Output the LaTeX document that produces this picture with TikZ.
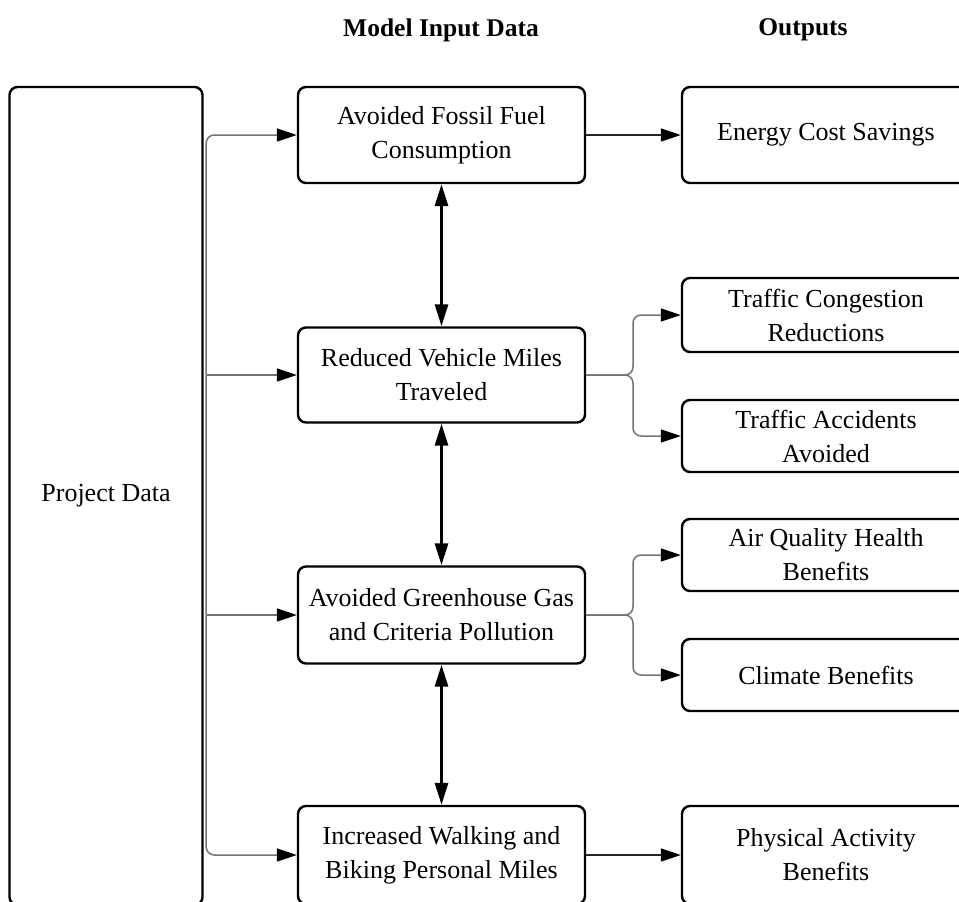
\documentclass[tikz,border=0pt]{standalone}
\usepackage{fontspec}
\setmainfont{Liberation Serif}
\usetikzlibrary{arrows.meta}
\begin{document}
\begin{tikzpicture}[x=1pt,y=-1pt,
  box/.style={draw=black, line width=2.4pt, rounded corners=8pt, align=center,
    inner sep=0pt, minimum width=287pt, font=\fontsize{26}{34}\selectfont},
  obox/.style={box, minimum width=288pt},
  title/.style={font=\fontsize{25.5}{30}\selectfont\bfseries},
  gline/.style={draw=black!55, line width=1.5pt},
  bline/.style={draw=black!85, line width=1.5pt},
  vline/.style={draw=black, line width=3pt},
  htip/.tip={Triangle[length=20pt,width=13pt,color=black]},
  vtip/.tip={Triangle[length=22pt,width=13pt,color=black]}
]
\useasboundingbox (0,0) rectangle (959,902);
\clip (0,0) rectangle (959,902);

\node[title] (t1) at (441,30) {Model Input Data};
\node[title] (t2) at (803,30) {Outputs};

\node[box, minimum width=193pt, minimum height=818pt] (pd) at (106,496) {Project Data};

\node[box, minimum height=96pt] (m1) at (441.5,135) {Avoided Fossil Fuel\\Consumption};
\node[box, minimum height=95pt] (m2) at (441.5,375) {Reduced Vehicle Miles\\Traveled};
\node[box, minimum height=97pt] (m3) at (441.5,615) {Avoided Greenhouse Gas\\and Criteria Pollution};
\node[box, minimum height=98pt] (m4) at (441.5,855) {Increased Walking and\\Biking Personal Miles};

\node[obox, minimum height=96pt] (o1) at (826,135) {Energy Cost Savings};
\node[obox, minimum height=74pt] (o2) at (826,315) {Traffic Congestion\\Reductions};
\node[obox, minimum height=72pt] (o3) at (826,436) {Traffic Accidents\\Avoided};
\node[obox, minimum height=72pt] (o4) at (826,555) {Air Quality Health\\Benefits};
\node[obox, minimum height=72pt] (o5) at (826,675) {Climate Benefits};
\node[obox, minimum height=98pt] (o6) at (826,855) {Physical Activity\\Benefits};

% trunk from Project Data
\coordinate (tx) at ([xshift=2.5pt]pd.east);
\draw[gline, rounded corners=8pt, htip-htip] (m4.west) -| (tx |- m1.west) -- (m1.west);
\draw[gline, -htip] (tx |- m2.west) -- (m2.west);
\draw[gline, -htip] (tx |- m3.west) -- (m3.west);

% direct outputs
\draw[bline, -htip] (m1.east) -- (o1.west);
\draw[bline, -htip] (m4.east) -- (o6.west);

% split connectors
\coordinate (sx) at (633,0);
\draw[gline, rounded corners=8pt, -htip] (m2.east) -| (sx |- o2.west) -- (o2.west);
\draw[gline, rounded corners=8pt, -htip] (m2.east) -| (sx |- o3.west) -- (o3.west);
\draw[gline, rounded corners=8pt, -htip] (m3.east) -| (sx |- o4.west) -- (o4.west);
\draw[gline, rounded corners=8pt, -htip] (m3.east) -| (sx |- o5.west) -- (o5.west);

% vertical double arrows
\draw[vline, vtip-vtip] (m1.south) -- (m2.north);
\draw[vline, vtip-vtip] (m2.south) -- (m3.north);
\draw[vline, vtip-vtip] (m3.south) -- (m4.north);
\end{tikzpicture}
\end{document}
